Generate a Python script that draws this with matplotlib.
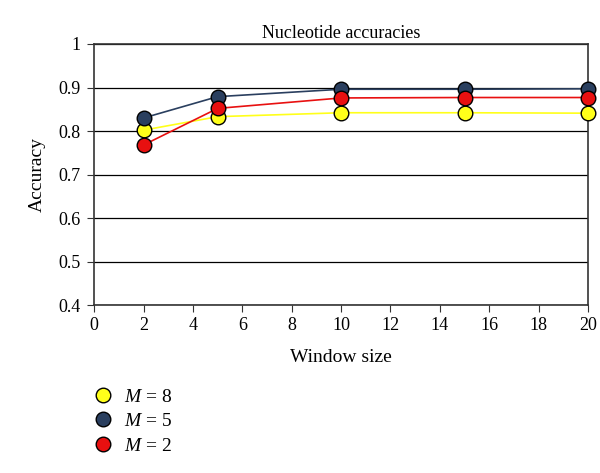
import matplotlib
matplotlib.use("Agg")
import matplotlib.pyplot as plt

plt.rcParams['font.family'] = ['Liberation Serif', 'DejaVu Serif']
plt.rcParams['mathtext.fontset'] = 'custom'
plt.rcParams['mathtext.it'] = 'Liberation Serif:italic'
plt.rcParams['mathtext.rm'] = 'Liberation Serif'

# Window sizes and accuracies per M
window_sizes = [2, 5, 10, 15, 20]
acc_m8 = [0.802, 0.833, 0.842, 0.842, 0.841]
acc_m5 = [0.830, 0.879, 0.896, 0.896, 0.897]
acc_m2 = [0.768, 0.852, 0.876, 0.877, 0.877]
series = [("$M$ = 8", acc_m8, "#ffff1a", "#ffff1a"),
          ("$M$ = 5", acc_m5, "#2a3f5f", "#2a3f5f"),
          ("$M$ = 2", acc_m2, "#e81010", "#e81010")]

fig = plt.figure(figsize=(6.0, 4.73), dpi=100)
ax = fig.add_axes([0.157, 0.355, 0.823, 0.552])

handles = []
for label, vals, lc, fc in series:
    h, = ax.plot(window_sizes, vals, color=lc, lw=1.2, marker='o', ms=10.5,
                 mfc=fc, mec='black', mew=1.0, label=label, clip_on=False, zorder=3)
    handles.append(h)

ax.set_xlim(0, 20)
ax.set_ylim(0.4, 1.0)
ax.set_xticks(range(0, 21, 2))
ax.set_yticks([0.4, 0.5, 0.6, 0.7, 0.8, 0.9, 1.0])
ax.set_yticklabels(["0.4", "0.5", "0.6", "0.7", "0.8", "0.9", "1"])
ax.yaxis.grid(True, color='black', lw=0.9)
ax.set_axisbelow(True)
for s in ax.spines.values():
    s.set_color('#333333')
    s.set_linewidth(1.2)
ax.tick_params(axis='both', direction='out', length=5, labelsize=13, color='#333333')
ax.tick_params(axis='y', pad=5)
ax.set_title("Nucleotide accuracies", fontsize=13, pad=4)
ax.set_xlabel("Window size", fontsize=14, labelpad=11)
ax.set_ylabel("Accuracy", fontsize=14, labelpad=9)

leg_handles = [plt.Line2D([], [], ls='none', marker='o', ms=10.5, mfc=fc, mec='black', mew=1.0)
               for _, _, _, fc in series]
fig.legend(leg_handles, [s[0] for s in series], loc='upper left',
           bbox_to_anchor=(0.123, 0.2), frameon=False, fontsize=14,
           handletextpad=0.1, labelspacing=0.35, borderpad=0)

fig.savefig("out.png", dpi=100)
